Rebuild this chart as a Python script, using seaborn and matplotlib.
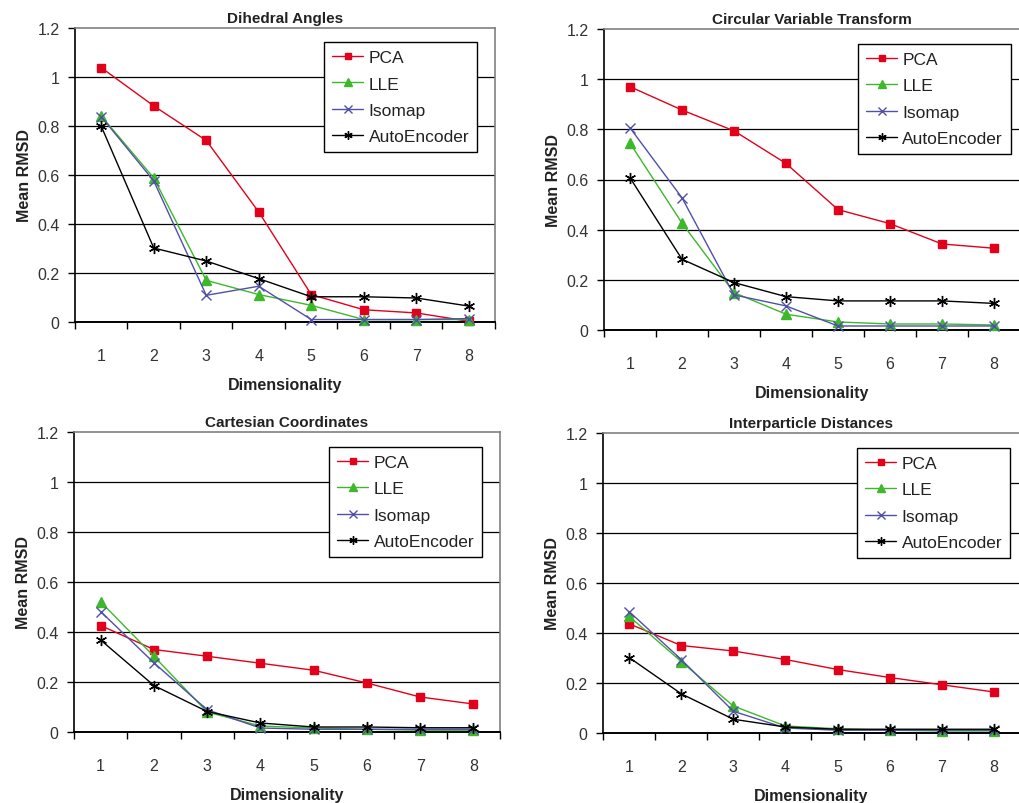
import numpy as np
import pandas as pd
import matplotlib
matplotlib.use("Agg")
import matplotlib.pyplot as plt
import seaborn as sns
from matplotlib.lines import Line2D

sns.set_theme(style="white")
plt.rcParams['font.family'] = ['Liberation Sans', 'DejaVu Sans']

dims = [1, 2, 3, 4, 5, 6, 7, 8]
methods = ["PCA", "LLE", "Isomap", "AutoEncoder"]
titles = ["Dihedral Angles", "Circular Variable Transform",
          "Cartesian Coordinates", "Interparticle Distances"]

dihedral_pca = [1.038, 0.882, 0.741, 0.449, 0.112, 0.050, 0.037, 0.003]
dihedral_lle = [0.841, 0.588, 0.170, 0.112, 0.068, 0.010, 0.010, 0.010]
dihedral_iso = [0.838, 0.576, 0.109, 0.146, 0.010, 0.010, 0.010, 0.014]
dihedral_ae = [0.799, 0.302, 0.249, 0.177, 0.103, 0.103, 0.098, 0.065]

circular_pca = [0.970, 0.877, 0.794, 0.664, 0.480, 0.424, 0.343, 0.326]
circular_lle = [0.745, 0.426, 0.149, 0.063, 0.032, 0.024, 0.024, 0.020]
circular_iso = [0.806, 0.527, 0.140, 0.096, 0.016, 0.016, 0.016, 0.016]
circular_ae = [0.607, 0.282, 0.189, 0.133, 0.116, 0.116, 0.116, 0.106]

cartesian_pca = [0.426, 0.330, 0.303, 0.275, 0.247, 0.196, 0.140, 0.112]
cartesian_lle = [0.521, 0.303, 0.080, 0.024, 0.016, 0.011, 0.007, 0.007]
cartesian_iso = [0.482, 0.277, 0.089, 0.016, 0.011, 0.011, 0.011, 0.011]
cartesian_ae = [0.368, 0.186, 0.082, 0.036, 0.020, 0.020, 0.017, 0.017]

inter_pca = [0.437, 0.350, 0.328, 0.294, 0.254, 0.222, 0.193, 0.164]
inter_lle = [0.467, 0.286, 0.108, 0.028, 0.017, 0.011, 0.008, 0.008]
inter_iso = [0.486, 0.294, 0.087, 0.020, 0.011, 0.011, 0.011, 0.011]
inter_ae = [0.302, 0.157, 0.055, 0.024, 0.015, 0.015, 0.015, 0.015]

y_ticks = [0, 0.2, 0.4, 0.6, 0.8, 1.0, 1.2]
y_ticklabels = ["0", "0.2", "0.4", "0.6", "0.8", "1", "1.2"]

panels = [
    [dihedral_pca, dihedral_lle, dihedral_iso, dihedral_ae],
    [circular_pca, circular_lle, circular_iso, circular_ae],
    [cartesian_pca, cartesian_lle, cartesian_iso, cartesian_ae],
    [inter_pca, inter_lle, inter_iso, inter_ae],
]

colors = {"PCA": "#E3001B", "LLE": "#3DB82A", "Isomap": "#5050A8", "AutoEncoder": "#000000"}
markers = {"PCA": "s", "LLE": "^", "Isomap": "x", "AutoEncoder": (6, 2, 0)}
msizes = {"PCA": 6, "LLE": 6.5, "Isomap": 7, "AutoEncoder": 8}
leg_msizes = {"PCA": 5, "LLE": 5.5, "Isomap": 5.5, "AutoEncoder": 6}

axes_pos = [
    [75 / 1020, 1 - 323 / 804, 420 / 1020, 294 / 804],
    [604 / 1020, 1 - 331 / 804, 416 / 1020, 301 / 804],
    [74 / 1020, 1 - 733 / 804, 426 / 1020, 300 / 804],
    [603 / 1020, 1 - 734 / 804, 417 / 1020, 300 / 804],
]
legend_anchor = [(0.957, 0.952), (0.978, 0.95), (0.958, 0.95), (0.976, 0.95)]

fig = plt.figure(figsize=(10.2, 8.04), dpi=100)

for i, (series, title) in enumerate(zip(panels, titles)):
    ax = fig.add_axes(axes_pos[i])
    rows = []
    for m, vals in zip(methods, series):
        for d, v in zip(dims, vals):
            rows.append({"Dimensionality": d, "Mean RMSD": v, "Method": m})
    df = pd.DataFrame(rows)
    for m in methods:
        sub = df[df["Method"] == m]
        sns.lineplot(data=sub, x="Dimensionality", y="Mean RMSD", ax=ax,
                     color=colors[m], marker=markers[m], markersize=msizes[m],
                     markeredgecolor=colors[m], markeredgewidth=1.0,
                     linewidth=1.0, label=m, clip_on=False, zorder=3, legend=False)
    ax.set_xlim(0.5, 8.5)
    ax.set_ylim(0, 1.2)
    ax.set_yticks(y_ticks)
    ax.set_yticklabels(y_ticklabels)
    ax.set_xticks(dims)
    ax.set_xticks(np.arange(0.5, 9.0, 1.0), minor=True)
    ax.tick_params(axis="x", which="major", length=0, pad=19, labelsize=11.5, labelcolor="#333333")
    ax.tick_params(axis="x", which="minor", length=5, width=1, direction="out", color="black", bottom=True)
    ax.tick_params(axis="y", which="major", length=5, width=1, direction="out", color="black",
                   left=True, labelsize=11.5, pad=6, labelcolor="#333333")
    for yv in y_ticks[1:-1]:
        ax.axhline(yv, color="black", linewidth=0.9, zorder=1)
    ax.spines["left"].set_color("black")
    ax.spines["bottom"].set_color("black")
    ax.spines["left"].set_linewidth(1.2)
    ax.spines["bottom"].set_linewidth(1.4)
    ax.spines["top"].set_color("#808080")
    ax.spines["right"].set_color("#808080")
    ax.spines["top"].set_linewidth(1.2)
    ax.spines["right"].set_linewidth(1.2)
    ax.set_title(title, fontsize=11, fontweight="bold", pad=4, color="#222222")
    ax.set_xlabel("Dimensionality", fontsize=11.5, fontweight="bold", labelpad=10, color="#222222")
    ax.set_ylabel("Mean RMSD", fontsize=11.5, fontweight="bold", labelpad=4, color="#222222")
    handles = [Line2D([0], [0], color=colors[m], marker=markers[m], markersize=leg_msizes[m],
                      markeredgecolor=colors[m], linewidth=1.0) for m in methods]
    leg = ax.legend(handles, methods, loc="upper right", bbox_to_anchor=legend_anchor[i],
                    fontsize=12.5, frameon=True, fancybox=False, edgecolor="black",
                    framealpha=1, handlelength=1.8, borderpad=0.45, labelspacing=0.65,
                    handletextpad=0.3, borderaxespad=0, labelcolor="#222222")
    leg.get_frame().set_linewidth(1.0)
    leg.set_zorder(5)

fig.savefig("out.png", dpi=100, facecolor="white")
